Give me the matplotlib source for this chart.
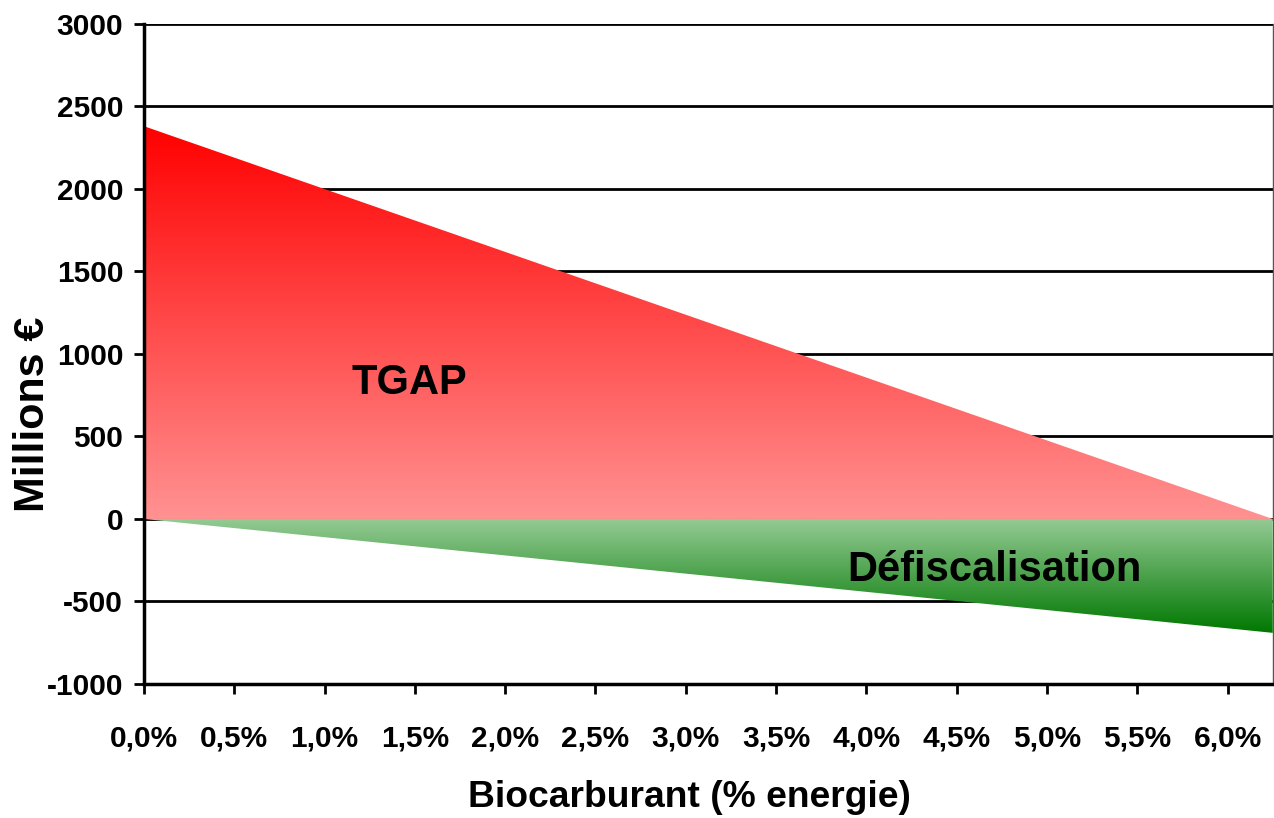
import numpy as np
import matplotlib
matplotlib.use("Agg")
import matplotlib.pyplot as plt
from matplotlib.colors import LinearSegmentedColormap

plt.rcParams['font.family'] = ['Liberation Sans', 'DejaVu Sans']
plt.rcParams['font.weight'] = 'bold'
plt.rcParams['axes.unicode_minus'] = False

# donnees
biocarburant = [0.0, 6.25]      # % energie
tgap = [2380, 0]                # millions €
defiscalisation = [0, -690]     # millions €

xticks = [0.0, 0.5, 1.0, 1.5, 2.0, 2.5, 3.0, 3.5, 4.0, 4.5, 5.0, 5.5, 6.0]
xtick_labels = ["0,0%", "0,5%", "1,0%", "1,5%", "2,0%", "2,5%", "3,0%",
                "3,5%", "4,0%", "4,5%", "5,0%", "5,5%", "6,0%"]
yticks = [-1000, -500, 0, 500, 1000, 1500, 2000, 2500, 3000]


def aire_degrade(ax, x, y1, y2, c_haut, c_bas):
    poly = ax.fill_between(x, y1, y2, facecolor='none', edgecolor='none')
    ymin = min(min(y1), min(y2))
    ymax = max(max(y1), max(y2))
    cmap = LinearSegmentedColormap.from_list('g', [c_bas, c_haut])
    grad = np.linspace(0, 1, 256).reshape(-1, 1)
    img = ax.imshow(grad, cmap=cmap, origin='lower', aspect='auto',
                    extent=[x[0], x[-1], ymin, ymax], zorder=3)
    img.set_clip_path(poly.get_paths()[0], transform=ax.transData)


fig = plt.figure(figsize=(12.74, 8.18), dpi=100)
ax = fig.add_axes([0.113, 0.1638, 0.886, 0.807])

aire_degrade(ax, biocarburant, tgap, [0, 0], '#ff0000', '#ff9292')
aire_degrade(ax, biocarburant, [0, 0], defiscalisation, '#94ca94', '#007800')

ax.set_xlim(0, 6.25)
ax.set_ylim(-1000, 3000)
ax.set_yticks(yticks)
ax.set_xticks(xticks)
ax.set_xticklabels(xtick_labels)

for y in yticks[1:]:
    ax.axhline(y, color='black', lw=2, zorder=2)

ax.spines['left'].set_linewidth(2.5)
ax.spines['bottom'].set_linewidth(2.5)
ax.spines['top'].set_visible(False)
ax.spines['right'].set_color('#555555')
ax.spines['right'].set_linewidth(1)
for s in ('left', 'bottom'):
    ax.spines[s].set_zorder(4)

ax.tick_params(axis='y', length=7, width=2, pad=8, labelsize=21.5)
ax.tick_params(axis='x', length=7, width=2, pad=22, labelsize=21.5)

ax.set_ylabel("Millions €", fontsize=31, fontweight='bold')
ax.yaxis.set_label_coords(-0.081, 0.409)
ax.set_xlabel("Biocarburant (% energie)", fontsize=26.8, fontweight='bold')
ax.xaxis.set_label_coords(0.4836, -0.146)

ax.text(1.47, 824, "TGAP", fontsize=30, fontweight='bold', ha='center', va='center', zorder=5)
ax.text(4.71, -312, "Défiscalisation", fontsize=30, fontweight='bold',
        ha='center', va='center', zorder=5)

fig.savefig("out.png", dpi=100)
